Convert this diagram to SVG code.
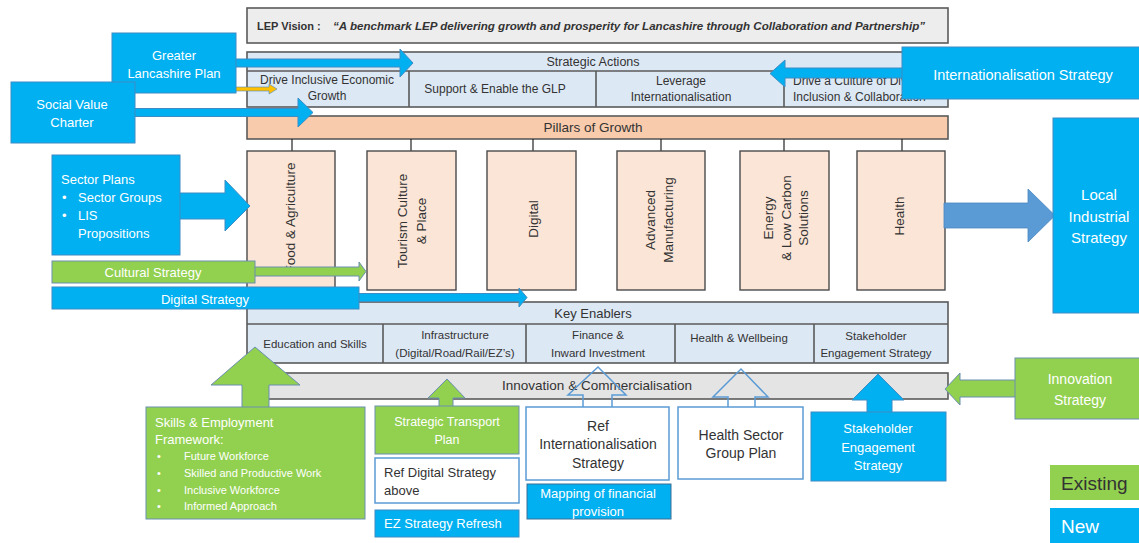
<svg xmlns="http://www.w3.org/2000/svg" width="1139" height="543" viewBox="0 0 1139 543">
<style>
text{font-family:"Liberation Sans",Arial,sans-serif;fill:#333}
.frame{stroke:#5a5a5a;stroke-width:1.6}
.sa{fill:#dde8f5}
.pil{fill:#fbe5d6;stroke:#4a4a4a;stroke-width:1.4}
.blue{fill:#00b0f0;stroke:#3d8cc4;stroke-width:1}
.green{fill:#92d050;stroke:#6b8fb0;stroke-width:1}
.wbox{fill:#fff;stroke:#5b9bd5;stroke-width:1.5}
.hollow{fill:none;stroke:#5b9bd5;stroke-width:1.5}
.w{fill:#fff}
.c{text-anchor:middle}
.s11{font-size:11px}
.s12{font-size:12px}
.ke{font-size:11.5px}
.s13{font-size:13px}
.s14{font-size:14px}
.rot{font-size:13.5px;text-anchor:middle;dominant-baseline:central}
</style>

<g id="vision">
<rect x="247" y="8" width="701" height="35" fill="#ededed" class="frame"/>
<text x="257" y="30" font-size="11" font-weight="bold" fill="#222">LEP Vision :</text>
<text x="333" y="30" font-size="11" font-weight="bold" font-style="italic" fill="#222" textLength="592" lengthAdjust="spacingAndGlyphs">“A benchmark LEP delivering growth and prosperity for Lancashire through Collaboration and Partnership”</text>
</g>

<g id="strategic-actions">
<rect x="247" y="52" width="701" height="55" class="sa frame"/>
<line x1="247" y1="71" x2="948" y2="71" class="frame"/>
<line x1="409" y1="71" x2="409" y2="107" class="frame"/>
<line x1="596" y1="71" x2="596" y2="107" class="frame"/>
<line x1="784" y1="71" x2="784" y2="107" class="frame"/>
<text x="593" y="66" class="c" font-size="12.5">Strategic Actions</text>
<text x="327" y="84" class="c s12">Drive Inclusive Economic</text>
<text x="327" y="100" class="c s12">Growth</text>
<text x="495" y="93" class="c s12">Support &amp; Enable the GLP</text>
<text x="681" y="85" class="c s12">Leverage</text>
<text x="681" y="101" class="c s12">Internationalisation</text>
<text x="793" y="85" class="s12">Drive a Culture of Diversity,</text>
<text x="793" y="101" class="s12">Inclusion &amp; Collaboration</text>
</g>

<g id="pillars-of-growth">
<rect x="247" y="116" width="701" height="23" fill="#f8cbad" class="frame"/>
<text x="593" y="132" class="c" font-size="13.5">Pillars of Growth</text>
</g>

<g id="pillar-lines" stroke="#222" stroke-width="1.2">
<line x1="292" y1="139" x2="292" y2="151"/>
<line x1="411" y1="139" x2="411" y2="151"/>
<line x1="533" y1="139" x2="533" y2="151"/>
<line x1="661" y1="139" x2="661" y2="151"/>
<line x1="784" y1="139" x2="784" y2="151"/>
<line x1="902" y1="139" x2="902" y2="151"/>
</g>

<g id="pillar-food">
<rect x="247" y="151" width="88" height="139" class="pil"/>
<text class="rot" transform="translate(290 218) rotate(-90)">Food &amp; Agriculture</text>
</g>
<g id="pillar-tourism">
<rect x="367" y="151" width="89" height="139" class="pil"/>
<text class="rot" transform="translate(402 221) rotate(-90)">Tourism Culture</text>
<text class="rot" transform="translate(421 221) rotate(-90)">&amp; Place</text>
</g>
<g id="pillar-digital">
<rect x="487" y="151" width="89" height="139" class="pil"/>
<text class="rot" transform="translate(533 219) rotate(-90)">Digital</text>
</g>
<g id="pillar-advanced">
<rect x="617" y="151" width="88" height="139" class="pil"/>
<text class="rot" transform="translate(650 220) rotate(-90)">Advanced</text>
<text class="rot" transform="translate(668 220) rotate(-90)">Manufacturing</text>
</g>
<g id="pillar-energy">
<rect x="740" y="151" width="89" height="139" class="pil"/>
<text class="rot" transform="translate(768 218) rotate(-90)">Energy</text>
<text class="rot" transform="translate(786 218) rotate(-90)">&amp; Low Carbon</text>
<text class="rot" transform="translate(803 218) rotate(-90)">Solutions</text>
</g>
<g id="pillar-health">
<rect x="857" y="151" width="88" height="139" class="pil"/>
<text class="rot" transform="translate(899 216) rotate(-90)">Health</text>
</g>

<g id="key-enablers">
<rect x="247" y="302" width="701" height="61" class="sa frame"/>
<line x1="247" y1="324" x2="948" y2="324" class="frame"/>
<line x1="383" y1="324" x2="383" y2="363" class="frame"/>
<line x1="526" y1="324" x2="526" y2="363" class="frame"/>
<line x1="675" y1="324" x2="675" y2="363" class="frame"/>
<line x1="814" y1="324" x2="814" y2="363" class="frame"/>
<text x="593" y="318" class="c s13">Key Enablers</text>
<text x="315" y="348" class="c ke">Education and Skills</text>
<text x="455" y="339" class="c ke">Infrastructure</text>
<text x="455" y="357" class="c ke">(Digital/Road/Rail/EZ’s)</text>
<text x="598" y="339" class="c ke">Finance &amp;</text>
<text x="598" y="357" class="c ke">Inward Investment</text>
<text x="739" y="342" class="c ke">Health &amp; Wellbeing</text>
<text x="876" y="340" class="c ke">Stakeholder</text>
<text x="876" y="357" class="c ke">Engagement Strategy</text>
</g>

<g id="innovation-commercialisation">
<rect x="247" y="373" width="701" height="26" fill="#e4e4e4" class="frame"/>
<text x="597" y="390" class="c" font-size="13.5">Innovation &amp; Commercialisation</text>
</g>

<g id="connectors">
<path class="blue" d="M230 59 H400 V49 L413 63 L400 77 V67 H230 Z"/>
<path d="M230 87 H269 V84 L277 89 L269 94 V91 H230 Z" fill="#ffc000" stroke="#4a86c0" stroke-width="0.6"/>
<path class="blue" d="M130 108.5 H298 V98 L313 112.5 L298 127 V116.5 H130 Z"/>
<path class="blue" d="M908 68 H785 V60 L770 73.5 L785 87 V78 H908 Z"/>
<path class="blue" d="M175 193 H225 V180 L250 206 L225 231 V219 H175 Z"/>
<path d="M944 203 H1028 V189 L1055 215.5 L1028 242 V228 H944 Z" fill="#5b9bd5" stroke="#4a86c0" stroke-width="0.8"/>
<path class="green" d="M250 267 H359 V262 L366 271.5 L359 281 V276 H250 Z"/>
<path class="blue" d="M354 293.5 H519 V288 L527 297.5 L519 307 V301.5 H354 Z"/>
<path class="green" d="M1020 380 H960 V373 L945 389 L960 405 V397 H1020 Z"/>
<path class="blue" d="M867 416 V400 H852 L878 374 L904 400 H892 V416 Z"/>
<path class="green" d="M242 411 V385 H211 L255 347 L300 385 H269 V411 Z"/>
<path class="green" d="M439 410 V398 H428 L447 379 L465 398 H453 V410 Z"/>
<path class="hollow" d="M583 407 V395 H568 L598 367 L626 395 H612 V407"/>
<path class="hollow" d="M728 407 V397 H713 L741 369 L768 397 H755 V407"/>
</g>

<g id="greater-lancashire-plan">
<rect x="112" y="33" width="124" height="60" class="blue"/>
<text x="174" y="60" class="c s13 w">Greater</text>
<text x="174" y="78" class="c s13 w">Lancashire Plan</text>
</g>

<g id="social-value-charter">
<rect x="11" y="82" width="124" height="61" class="blue"/>
<text x="72" y="109" class="c s13 w">Social Value</text>
<text x="72" y="127" class="c s13 w">Charter</text>
</g>

<g id="internationalisation-strategy">
<rect x="902" y="47" width="238" height="52" class="blue"/>
<text x="1023" y="80" class="c w" font-size="14.5">Internationalisation  Strategy</text>
</g>

<g id="sector-plans">
<rect x="52" y="155" width="128" height="100" class="blue"/>
<text x="61" y="184" class="s13 w">Sector Plans</text>
<text x="62" y="202" class="s13 w">•</text>
<text x="78" y="202" class="s13 w">Sector Groups</text>
<text x="62" y="220" class="s13 w">•</text>
<text x="78" y="220" class="s13 w">LIS</text>
<text x="78" y="238" class="s13 w">Propositions</text>
</g>

<g id="cultural-strategy">
<rect x="52" y="261" width="203" height="22" class="green"/>
<text x="153" y="277" class="c s13 w">Cultural Strategy</text>
</g>

<g id="digital-strategy">
<rect x="52" y="287" width="307" height="22" class="blue"/>
<text x="205" y="304" class="c s13 w">Digital Strategy</text>
</g>

<g id="local-industrial-strategy">
<rect x="1053" y="118" width="87" height="195" class="blue"/>
<text x="1099" y="200" class="c w" font-size="15">Local</text>
<text x="1099" y="222" class="c w" font-size="15">Industrial</text>
<text x="1099" y="243" class="c w" font-size="15">Strategy</text>
</g>

<g id="innovation-strategy">
<rect x="1015" y="358" width="125" height="61" class="green"/>
<text x="1080" y="384" class="c s14 w">Innovation</text>
<text x="1080" y="405" class="c s14 w">Strategy</text>
</g>

<g id="stakeholder-engagement-strategy">
<rect x="811" y="412" width="135" height="69" class="blue"/>
<text x="878" y="433" class="c s13 w">Stakeholder</text>
<text x="878" y="452" class="c s13 w">Engagement</text>
<text x="878" y="470" class="c s13 w">Strategy</text>
</g>

<g id="skills-employment-framework">
<rect x="146" y="407" width="219" height="112" class="green"/>
<text x="155" y="427" class="s13 w">Skills &amp; Employment</text>
<text x="155" y="444" class="s13 w">Framework:</text>
<text x="157" y="460" class="s11 w">•</text>
<text x="184" y="460" class="s11 w">Future Workforce</text>
<text x="157" y="477" class="s11 w">•</text>
<text x="184" y="477" class="s11 w">Skilled and Productive Work</text>
<text x="157" y="494" class="s11 w">•</text>
<text x="184" y="494" class="s11 w">Inclusive Workforce</text>
<text x="157" y="510" class="s11 w">•</text>
<text x="184" y="510" class="s11 w">Informed Approach</text>
</g>

<g id="strategic-transport-plan">
<rect x="375" y="406" width="144" height="48" class="green"/>
<text x="447" y="426" class="c w" font-size="12.5">Strategic Transport</text>
<text x="447" y="444" class="c w" font-size="12.5">Plan</text>
</g>

<g id="ref-digital-strategy">
<rect x="375" y="458" width="144" height="45" class="wbox"/>
<text x="384" y="477" class="s13" fill="#222">Ref Digital Strategy</text>
<text x="384" y="495" class="s13" fill="#222">above</text>
</g>

<g id="ez-strategy-refresh">
<rect x="375" y="510" width="144" height="27" class="blue"/>
<text x="384" y="528" class="s13 w">EZ Strategy Refresh</text>
</g>

<g id="ref-internationalisation-strategy">
<rect x="526" y="407" width="143" height="73" class="wbox"/>
<text x="598" y="431" class="c s14">Ref</text>
<text x="598" y="449" class="c s14">Internationalisation</text>
<text x="598" y="468" class="c s14">Strategy</text>
</g>

<g id="mapping-financial-provision">
<rect x="527" y="484" width="144" height="35" fill="#00b0f0" stroke="#3f6f96" stroke-width="1"/>
<text x="598" y="498" class="c s13 w">Mapping of financial</text>
<text x="598" y="516" class="c s13 w">provision</text>
</g>

<g id="health-sector-group-plan">
<rect x="678" y="407" width="125" height="72" class="wbox"/>
<text x="741" y="440" class="c s14">Health Sector</text>
<text x="741" y="458" class="c s14">Group Plan</text>
</g>

<g id="legend-existing">
<rect x="1050" y="465" width="90" height="35" fill="#92d050"/>
<text x="1061" y="490" font-size="19" fill="#1a1a1a">Existing</text>
</g>
<g id="legend-new">
<rect x="1050" y="508" width="90" height="36" fill="#00b0f0"/>
<text x="1061" y="533" font-size="19" class="w">New</text>
</g>
</svg>
